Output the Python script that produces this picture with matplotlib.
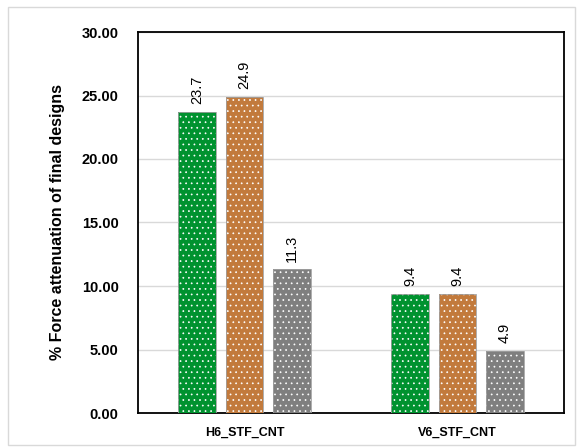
import numpy as np
import matplotlib.pyplot as plt
from matplotlib.patches import Rectangle

# data
groups = ['H6_STF_CNT', 'V6_STF_CNT']
series_a = [23.7, 9.4]
series_b = [24.9, 9.4]
series_c = [11.3, 4.9]
colors = ['#00922F', '#C27A3C', '#7F7F7F']

plt.rcParams['hatch.color'] = '#E8E8E8'
plt.rcParams['hatch.linewidth'] = 0.5
plt.rcParams['font.family'] = ['Liberation Sans', 'DejaVu Sans']

fig = plt.figure(figsize=(5.79, 4.48), dpi=100)
ax = fig.add_axes([138/579, 1 - 413/448, (564-138)/579, (413-32)/448])

x = np.arange(len(groups))
w = 0.178
step = 0.222
for i, (vals, c) in enumerate(zip([series_a, series_b, series_c], colors)):
    bars = ax.bar(x + (i - 1) * step, vals, w, color=c, hatch='...',
                  edgecolor='white', linewidth=0, zorder=3)
    for b, v in zip(bars, vals):
        ax.text(b.get_x() + b.get_width() / 2, v + 0.6, f'{v:.1f}',
                rotation=90, ha='center', va='bottom', fontsize=10.5)
    # thin outline
    ax.bar(x + (i - 1) * step, vals, w, fill=False, edgecolor='#A0A0A0',
           linewidth=0.6, zorder=4)

ax.set_xlim(-0.5, 1.5)
ax.set_ylim(0, 30)
ax.set_yticks(np.arange(0, 31, 5))
ax.set_yticklabels([f'{t:.2f}' for t in np.arange(0, 31, 5)],
                   fontweight='bold', fontsize=10.5)
ax.set_xticks(x)
ax.set_xticklabels(groups, fontweight='bold', fontsize=9)
ax.tick_params(axis='y', length=0, pad=14)
ax.tick_params(axis='x', length=0, pad=10)
ax.grid(axis='y', color='#D9D9D9', linewidth=1, zorder=0)
for s in ax.spines.values():
    s.set_color('black')
    s.set_linewidth(1.3)
ax.set_ylabel('% Force attenuation of final designs', fontweight='bold',
              fontsize=11.5, labelpad=12)

fig.patches.append(Rectangle((8/579, 3/448), 567/579, 438/448,
                             transform=fig.transFigure, fill=False,
                             edgecolor='#D9D9D9', linewidth=1))

fig.savefig('out.png', dpi=100)
